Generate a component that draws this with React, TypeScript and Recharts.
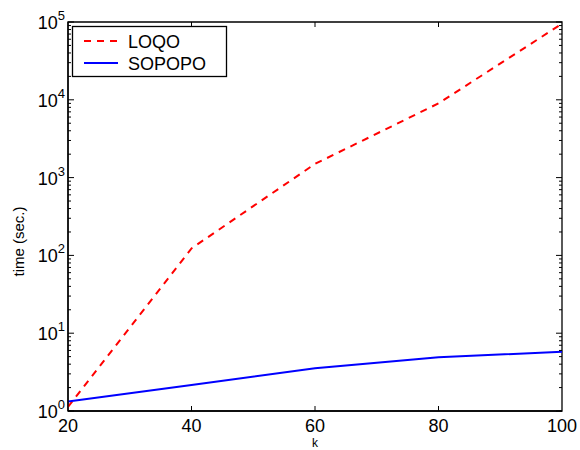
import React from 'react';
import { LineChart, Line, XAxis, YAxis, Label, ReferenceArea } from 'recharts';

const K = [20, 40, 60, 80, 100];
const LOQO = [1.13, 123, 1500, 9000, 95000];
const SOPOPO = [1.32, 2.16, 3.54, 4.9, 5.78];

const X_TICKS = [20, 40, 60, 80, 100];
const Y_TICKS = [1, 10, 100, 1000, 10000, 100000];
const Y_EXPONENTS = ['0', '1', '2', '3', '4', '5'];
const MINOR_FACTORS = [2, 3, 4, 5, 6, 7, 8, 9];
const Y_MINOR_TICKS = Y_TICKS.slice(0, -1).flatMap((d) => MINOR_FACTORS.map((f) => d * f));
const Y_ALL_TICKS = [...Y_TICKS, ...Y_MINOR_TICKS].sort((a, b) => a - b);

const SERIES = [
  { key: 'loqo', name: 'LOQO', color: '#ff0000', dash: '7 6' },
  { key: 'sopopo', name: 'SOPOPO', color: '#0000ff', dash: undefined as string | undefined },
];

const data = K.map((k, i) => ({ k, loqo: LOQO[i], sopopo: SOPOPO[i] }));

const FONT = '"Liberation Sans", Arial, Helvetica, sans-serif';
const W = 580;
const H = 450;
const MARGIN = { top: 22, right: 18, bottom: 9, left: 8 };
const Y_AXIS_W = 60;
const X_AXIS_H = 30;
const PLOT_W = W - MARGIN.left - MARGIN.right - Y_AXIS_W;
const PLOT_H = H - MARGIN.top - MARGIN.bottom - X_AXIS_H;
const MAJOR_LEN = 6;
const MINOR_LEN = 3;

const XTick = (props: any) => {
  const { x, y, payload } = props;
  const v = payload.value;
  const inner = v !== X_TICKS[0] && v !== X_TICKS[X_TICKS.length - 1];
  return (
    <g>
      {inner && (
        <>
          <line x1={x} x2={x} y1={y} y2={y - 5} stroke="#000" strokeWidth={1} />
          <line x1={x} x2={x} y1={y - PLOT_H} y2={y - PLOT_H + 5} stroke="#000" strokeWidth={1} />
        </>
      )}
      <text x={x} y={y + 21} textAnchor="middle" fontFamily={FONT} fontSize={18} fill="#000">
        {v}
      </text>
    </g>
  );
};

const YTick = (props: any) => {
  const { x, y, payload } = props;
  const idx = Y_TICKS.indexOf(payload.value);
  const major = idx >= 0;
  const len = major ? MAJOR_LEN : MINOR_LEN;
  return (
    <g>
      <line x1={x} x2={x + len} y1={y} y2={y} stroke="#000" strokeWidth={1} />
      <line x1={x + PLOT_W} x2={x + PLOT_W - len} y1={y} y2={y} stroke="#000" strokeWidth={1} />
      {major && (
        <text x={x - 3} y={y + 7} textAnchor="end" fontFamily={FONT} fontSize={18} fill="#000">
          <tspan>10</tspan>
          <tspan fontSize={13} dy={-9}>{Y_EXPONENTS[idx]}</tspan>
        </text>
      )}
    </g>
  );
};

const YLabelContent = (props: any) => {
  const vb = props.viewBox || { x: 8, y: 22, width: 60, height: 389 };
  const cx = 18;
  const cy = vb.y + vb.height / 2 + 25;
  return (
    <text
      x={cx}
      y={cy}
      transform={`rotate(-90, ${cx}, ${cy})`}
      textAnchor="middle"
      dominantBaseline="central"
      fontFamily={FONT}
      fontSize={15}
      fill="#000"
    >
      time (sec.)
    </text>
  );
};

const XLabelContent = (props: any) => {
  const vb = props.viewBox || { x: 68, y: 411, width: 494, height: 30 };
  return (
    <text
      x={vb.x + vb.width / 2}
      y={vb.y + 36}
      textAnchor="middle"
      fontFamily={FONT}
      fontSize={12}
      fill="#000"
    >
      k
    </text>
  );
};

const LegendBox = () => (
  <svg
    width={156}
    height={52}
    style={{ position: 'absolute', left: 72, top: 26, overflow: 'visible' }}
  >
    <rect x={0.5} y={0.5} width={154} height={50} fill="#fff" stroke="#000" strokeWidth={1.3} />
    {SERIES.map((s, i) => (
      <g key={s.key}>
        <line
          x1={12}
          x2={46}
          y1={15 + i * 22}
          y2={15 + i * 22}
          stroke={s.color}
          strokeWidth={2}
          strokeDasharray={s.dash}
        />
        <text x={56} y={15 + i * 22 + 6.5} fontFamily={FONT} fontSize={18} fill="#000">
          {s.name}
        </text>
      </g>
    ))}
  </svg>
);

export default function App() {
  return (
    <div style={{ position: 'absolute', left: 0, top: 0, width: W, height: H, background: '#fff' }}>
      <LineChart width={W} height={H} data={data} margin={MARGIN}>
        <XAxis
          xAxisId="x"
          dataKey="k"
          type="number"
          domain={[X_TICKS[0], X_TICKS[X_TICKS.length - 1]]}
          allowDataOverflow
          ticks={X_TICKS}
          interval={0}
          tickLine={false}
          tickSize={0}
          tickMargin={0}
          height={X_AXIS_H}
          axisLine={{ stroke: '#000', strokeWidth: 1.3 }}
          tick={<XTick />}
        >
          <Label content={<XLabelContent />} />
        </XAxis>
        <YAxis
          yAxisId="y"
          scale="log"
          type="number"
          domain={[Y_TICKS[0], Y_TICKS[Y_TICKS.length - 1]]}
          allowDataOverflow
          ticks={Y_ALL_TICKS}
          interval={0}
          width={Y_AXIS_W}
          tickLine={false}
          tickSize={0}
          tickMargin={0}
          axisLine={{ stroke: '#000', strokeWidth: 1.3 }}
          tick={<YTick />}
        >
          <Label content={<YLabelContent />} />
        </YAxis>
        <ReferenceArea
          xAxisId="x"
          yAxisId="y"
          x1={X_TICKS[0]}
          x2={X_TICKS[X_TICKS.length - 1]}
          y1={Y_TICKS[0]}
          y2={Y_TICKS[Y_TICKS.length - 1]}
          fill="none"
          fillOpacity={0}
          stroke="#000"
          strokeWidth={1.3}
          ifOverflow="visible"
        />
        {SERIES.map((s) => (
          <Line
            key={s.key}
            xAxisId="x"
            yAxisId="y"
            dataKey={s.key}
            name={s.name}
            type="linear"
            stroke={s.color}
            strokeWidth={2}
            strokeDasharray={s.dash}
            dot={false}
            activeDot={false}
            isAnimationActive={false}
          />
        ))}
      </LineChart>
      <LegendBox />
    </div>
  );
}
